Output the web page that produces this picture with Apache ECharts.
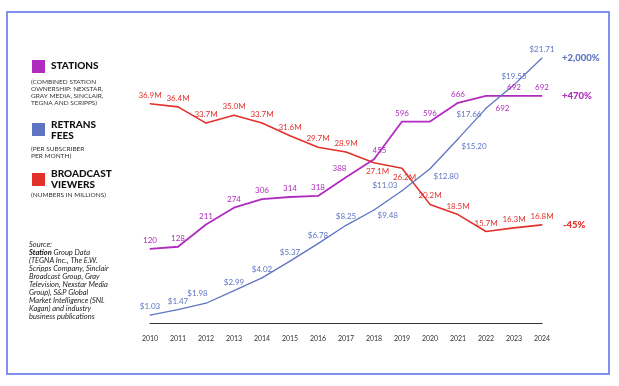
<!DOCTYPE html>
<html><head><meta charset="utf-8">
<script src="https://cdn.jsdelivr.net/npm/echarts@6/dist/echarts.min.js"></script>
<style>html,body{margin:0;padding:0;background:#fff}#c{width:619px;height:386px}</style>
</head><body><div id="c"></div>
<script>
const years = ['2010','2011','2012','2013','2014','2015','2016','2017','2018','2019','2020','2021','2022','2023','2024'];
const stations = [120,128,211,274,306,314,318,388,455,596,596,666,692,692,692];
const retransFees = [1.03,1.47,1.98,2.99,4.02,5.37,6.78,8.25,9.48,11.03,12.80,15.20,17.66,19.55,21.71];
const viewers = [36.9,36.4,33.7,35.0,33.7,31.6,29.7,28.9,27.1,26.2,20.2,18.5,15.7,16.3,16.8];
const changeLabels = {fees:'+2,000%', stations:'+470%', viewers:'-45%'};

const PURPLE='#b02cbf', BLUE='#5f74c2', RED='#e2312b';
const FONT='Lato';

// per-point label placement tweaks: index -> [dx, dy, align, verticalAlign]
const redLabelTweaks = {8:[4,5,'center','top'],9:[3,6,'center','top']};
const purpleLabelTweaks = {12:[17,9,'center','top'],8:[6,-4,'center','bottom'],7:[-6,-4,'center','bottom']};
const blueLabelTweaks = {8:[4,2,'left','top'],9:[-4,-5,'right','middle'],10:[4,4,'left','top'],11:[4,4,'left','top'],12:[-4,3,'right','top'],2:[-8,-5,'center','bottom']};

function build(values, tweaks){
  return values.map((v,i)=>{
    const o={value:v};
    const t=tweaks[i];
    if(t) o.label={position:[t[0],t[1]],align:t[2],verticalAlign:t[3]};
    return o;
  });
}

const chart = echarts.init(document.getElementById('c'));
const subStyle = {fill:'#333', fontSize:6.5, fontFamily:FONT, lineHeight:7.2};
const common = {type:'line',symbol:'circle',symbolSize:1,showSymbol:true,showAllSymbol:true};
chart.setOption({
  animation:false,
  grid:{left:150,right:77,top:40,bottom:63},
  xAxis:{type:'category',data:years,boundaryGap:false,
    axisLine:{onZero:false,lineStyle:{color:'#333',width:1.2}},axisTick:{show:false},
    axisLabel:{color:'#333',fontSize:7,fontFamily:FONT,margin:12}},
  yAxis:[
    {type:'value',min:0.5,max:47.5,show:false},
    {type:'value',min:-157,max:901,show:false},
    {type:'value',min:0.39,max:23.16,show:false}
  ],
  series:[
    Object.assign({},common,{yAxisIndex:0,data:build(viewers,redLabelTweaks),
      itemStyle:{color:RED},lineStyle:{color:RED,width:1.6},
      label:{show:true,position:'top',distance:4,color:RED,fontSize:8,fontFamily:FONT,formatter:p=>p.value.toFixed(1)+'M'}}),
    Object.assign({},common,{yAxisIndex:1,data:build(stations,purpleLabelTweaks),
      itemStyle:{color:PURPLE},lineStyle:{color:PURPLE,width:1.8},
      label:{show:true,position:'top',distance:4,color:PURPLE,fontSize:8,fontFamily:FONT}}),
    Object.assign({},common,{yAxisIndex:2,data:build(retransFees,blueLabelTweaks),
      itemStyle:{color:BLUE},lineStyle:{color:BLUE,width:1.3},
      label:{show:true,position:'top',distance:4,color:BLUE,fontSize:8,fontFamily:FONT,formatter:p=>'$'+p.value.toFixed(2)}})
  ],
  graphic:[
    {type:'rect',shape:{x:7,y:12,width:602,height:362},style:{fill:'none',stroke:'#7f92ee',lineWidth:2}},
    {type:'rect',shape:{x:32,y:60,width:13,height:13},style:{fill:PURPLE}},
    {type:'text',left:51,top:61,style:{text:'STATIONS',fill:'#111',fontSize:10,fontWeight:900,fontFamily:FONT}},
    {type:'text',left:31,top:78,style:Object.assign({text:'(COMBINED STATION\nOWNERSHIP: NEXSTAR,\nGRAY MEDIA, SINCLAIR,\nTEGNA AND SCRIPPS)'},subStyle)},
    {type:'rect',shape:{x:32,y:123,width:13,height:13},style:{fill:BLUE}},
    {type:'text',left:51,top:120,style:{text:'RETRANS\nFEES',fill:'#111',fontSize:10,fontWeight:900,fontFamily:FONT,lineHeight:10.5}},
    {type:'text',left:31,top:145,style:Object.assign({text:'(PER SUBSCRIBER\nPER MONTH)'},subStyle)},
    {type:'rect',shape:{x:32,y:173,width:13,height:13},style:{fill:RED}},
    {type:'text',left:51,top:169,style:{text:'BROADCAST\nVIEWERS',fill:'#111',fontSize:10,fontWeight:900,fontFamily:FONT,lineHeight:10.5}},
    {type:'text',left:31,top:191,style:Object.assign({text:'(NUMBERS IN MILLIONS)'},subStyle)},
    {type:'text',left:29,top:241,style:{
      text:'{i|Source:}\n{b|Station}{i| Group Data}\n{i|(TEGNA Inc., The E.W.}\n{i|Scripps Company, Sinclair}\n{i|Broadcast Group, Gray}\n{i|Television, Nexstar Media}\n{i|Group), S&P Global}\n{i|Market Intelligence (SNL}\n{i|Kagan) and industry}\n{i|business publications}',
      rich:{i:{fontStyle:'italic',fontSize:7.5,fontFamily:FONT,fill:'#222',lineHeight:8},
            b:{fontStyle:'italic',fontWeight:'bold',fontSize:7.5,fontFamily:FONT,fill:'#111',lineHeight:8}}}},
    {type:'text',left:562,top:53,style:{text:changeLabels.fees,fill:BLUE,fontSize:9.5,fontWeight:900,fontFamily:FONT}},
    {type:'text',left:562,top:91,style:{text:changeLabels.stations,fill:PURPLE,fontSize:9.5,fontWeight:900,fontFamily:FONT}},
    {type:'text',left:563,top:220,style:{text:changeLabels.viewers,fill:RED,fontSize:9.5,fontWeight:900,fontFamily:FONT}}
  ]
});
</script></body></html>
